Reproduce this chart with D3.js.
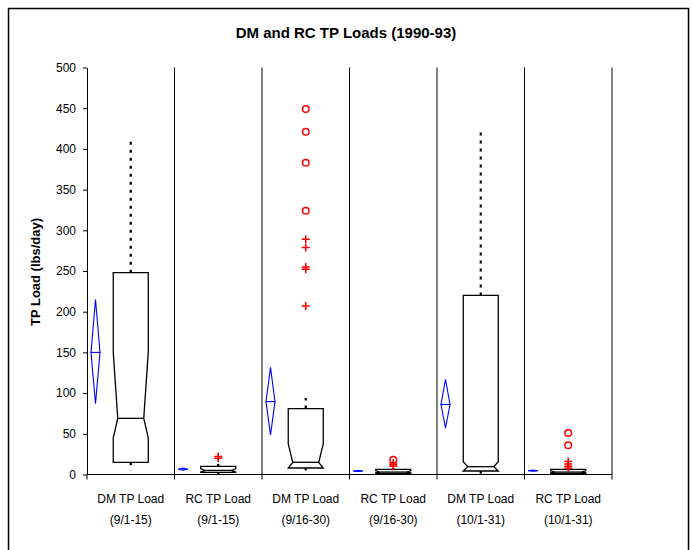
<!DOCTYPE html>
<html>
<head>
<meta charset="utf-8">
<script src="https://cdn.jsdelivr.net/npm/d3@7"></script>
<style>
  html, body { margin: 0; padding: 0; background: #fff; }
  svg { display: block; font-family: Arial, "Liberation Sans", sans-serif; }
</style>
</head>
<body>
<svg id="chart" width="693" height="550"></svg>
<script>
// ---- data ----
const categories = ["DM TP Load|(9/1-15)", "RC TP Load|(9/1-15)", "DM TP Load|(9/16-30)",
                    "RC TP Load|(9/16-30)", "DM TP Load|(10/1-31)", "RC TP Load|(10/1-31)"];
const q1Values      = [15, 2.5, 8, 1.5, 4.3, 1.5];
const medianValues  = [69, 5, 15, 3, 9.6, 3];
const q3Values      = [248, 10, 81, 6.4, 220, 6.4];
const notchLow      = [45, 3, 8, 2, 4.3, 2];
const notchHigh     = [150, 7, 37.5, 4.5, 15.7, 4.5];
const whiskerLow    = [5, 0.5, 5, 0.5, 1, 0.5];
const whiskerHigh   = [413, 13, 94, 8, 424, 8];
const meanValues    = [150, 6.5, 89.5, 4.3, 86, 4.7];
const meanCILow     = [87, 5.2, 48.5, 3.6, 57, 4];
const meanCIHigh    = [215, 7.8, 131.6, 5, 117, 5.4];
const farOutliers   = [[], [], [449, 421, 383, 324], [18], [], [51, 36]];
const nearOutliers  = [[], [22, 20], [289, 279, 255, 252, 207], [14, 12, 10], [], [16, 13, 10, 8]];
const yTicks        = [0, 50, 100, 150, 200, 250, 300, 350, 400, 450, 500];
const chartTitle    = "DM and RC TP Loads (1990-93)";
const yAxisTitle    = "TP Load (lbs/day)";

// ---- setup ----
const svg = d3.select("#chart");
const plotLeft = 87, plotRight = 612, plotTop = 67.5, plotBottom = 474.5;

svg.append("rect")
  .attr("x", 8.5).attr("y", 8.5).attr("width", 680).attr("height", 600)
  .attr("fill", "#fff").attr("stroke", "#000").attr("stroke-width", 1.5);

const x = d3.scaleBand().domain(categories).range([plotLeft, plotRight]).padding(0);
const y = d3.scaleLinear().domain([0, 500]).range([plotBottom, plotTop]);
const bw = x.bandwidth();
const boxHalf = 17.5, inset = 4.5, diaHalf = 4.5, diaOffset = 8.5;

// title
svg.append("text")
  .attr("x", 346).attr("y", 38)
  .attr("text-anchor", "middle")
  .attr("font-size", 15).attr("font-weight", "bold")
  .text(chartTitle);

// y axis title
svg.append("text")
  .attr("transform", "translate(40,272) rotate(-90)")
  .attr("text-anchor", "middle")
  .attr("font-size", 13).attr("font-weight", "bold")
  .text(yAxisTitle);

// y axis
const yAxis = d3.axisLeft(y).tickValues(yTicks).tickSize(4).tickSizeOuter(0).tickPadding(7);
const gy = svg.append("g").attr("transform", `translate(${plotLeft},0)`).call(yAxis);
gy.selectAll("text").attr("font-size", 12).attr("font-family", "Arial, 'Liberation Sans', sans-serif").attr("fill", "#000");
gy.selectAll("line, path").attr("stroke", "#000");

// x axis line and separators
svg.append("line")
  .attr("x1", plotLeft).attr("x2", plotRight).attr("y1", y(0)).attr("y2", y(0))
  .attr("stroke", "#000").attr("stroke-width", 1.2);
const bounds = categories.map(c => x(c)).concat([plotRight]);
svg.selectAll("line.sep").data(bounds.slice(1)).enter().append("line")
  .attr("class", "sep")
  .attr("x1", d => d).attr("x2", d => d)
  .attr("y1", y(500)).attr("y2", y(0) + 5)
  .attr("stroke", "#000").attr("stroke-width", 1);
svg.append("line")
  .attr("x1", plotLeft).attr("x2", plotLeft).attr("y1", y(0)).attr("y2", y(0) + 5)
  .attr("stroke", "#000");

// category labels
categories.forEach(c => {
  const parts = c.split("|");
  const t = svg.append("text")
    .attr("x", x(c) + bw / 2).attr("text-anchor", "middle")
    .attr("font-size", 12).attr("fill", "#000");
  t.append("tspan").attr("x", x(c) + bw / 2).attr("y", 503).text(parts[0]);
  t.append("tspan").attr("x", x(c) + bw / 2).attr("y", 524).text(parts[1]);
});

// boxes
categories.forEach((c, i) => {
  const cx = x(c) + bw / 2;
  const L = cx - boxHalf, R = cx + boxHalf;
  const g = svg.append("g");

  // whiskers (dotted)
  g.append("line")
    .attr("x1", cx).attr("x2", cx).attr("y1", y(q3Values[i])).attr("y2", y(whiskerHigh[i]))
    .attr("stroke", "#000").attr("stroke-width", 2.2).attr("stroke-dasharray", "3,5");
  g.append("line")
    .attr("x1", cx).attr("x2", cx).attr("y1", y(q1Values[i])).attr("y2", y(whiskerLow[i]))
    .attr("stroke", "#000").attr("stroke-width", 2.2).attr("stroke-dasharray", "3,5");

  const lowBottom = Math.min(q1Values[i], notchLow[i]);
  const pts = [
    [L, y(q3Values[i])], [R, y(q3Values[i])],
    [R, y(notchHigh[i])], [R - inset, y(medianValues[i])], [R, y(notchLow[i])],
    [R, y(lowBottom)], [L, y(lowBottom)],
    [L, y(notchLow[i])], [L + inset, y(medianValues[i])], [L, y(notchHigh[i])]
  ];
  g.append("path")
    .attr("d", d3.line()(pts) + "Z")
    .attr("fill", "#fff").attr("stroke", "#000").attr("stroke-width", 1.3)
    .attr("stroke-linejoin", "miter");
  g.append("line")
    .attr("x1", L + inset).attr("x2", R - inset)
    .attr("y1", y(medianValues[i])).attr("y2", y(medianValues[i]))
    .attr("stroke", "#000").attr("stroke-width", 1.3);

  // outliers
  g.selectAll("circle.far").data(farOutliers[i]).enter().append("circle")
    .attr("cx", cx).attr("cy", d => y(d)).attr("r", 3.3)
    .attr("fill", "none").attr("stroke", "#ff0000").attr("stroke-width", 1.5);
  g.selectAll("path.near").data(nearOutliers[i]).enter().append("path")
    .attr("d", d => `M${cx - 4},${y(d)}H${cx + 4}M${cx},${y(d) - 4}V${y(d) + 4}`)
    .attr("stroke", "#ff0000").attr("stroke-width", 1.5).attr("fill", "none");

  // mean diamond
  const dx = x(c) + diaOffset;
  const dpts = [[dx, y(meanCIHigh[i])], [dx + diaHalf, y(meanValues[i])],
                [dx, y(meanCILow[i])], [dx - diaHalf, y(meanValues[i])]];
  g.append("path").attr("d", d3.line()(dpts) + "Z")
    .attr("fill", "none").attr("stroke", "#0000ff").attr("stroke-width", 1.1);
  g.append("line")
    .attr("x1", dx - diaHalf - 0.5).attr("x2", dx + diaHalf + 0.5)
    .attr("y1", y(meanValues[i])).attr("y2", y(meanValues[i]))
    .attr("stroke", "#0000ff").attr("stroke-width", 1.1);
});
</script>
</body>
</html>
